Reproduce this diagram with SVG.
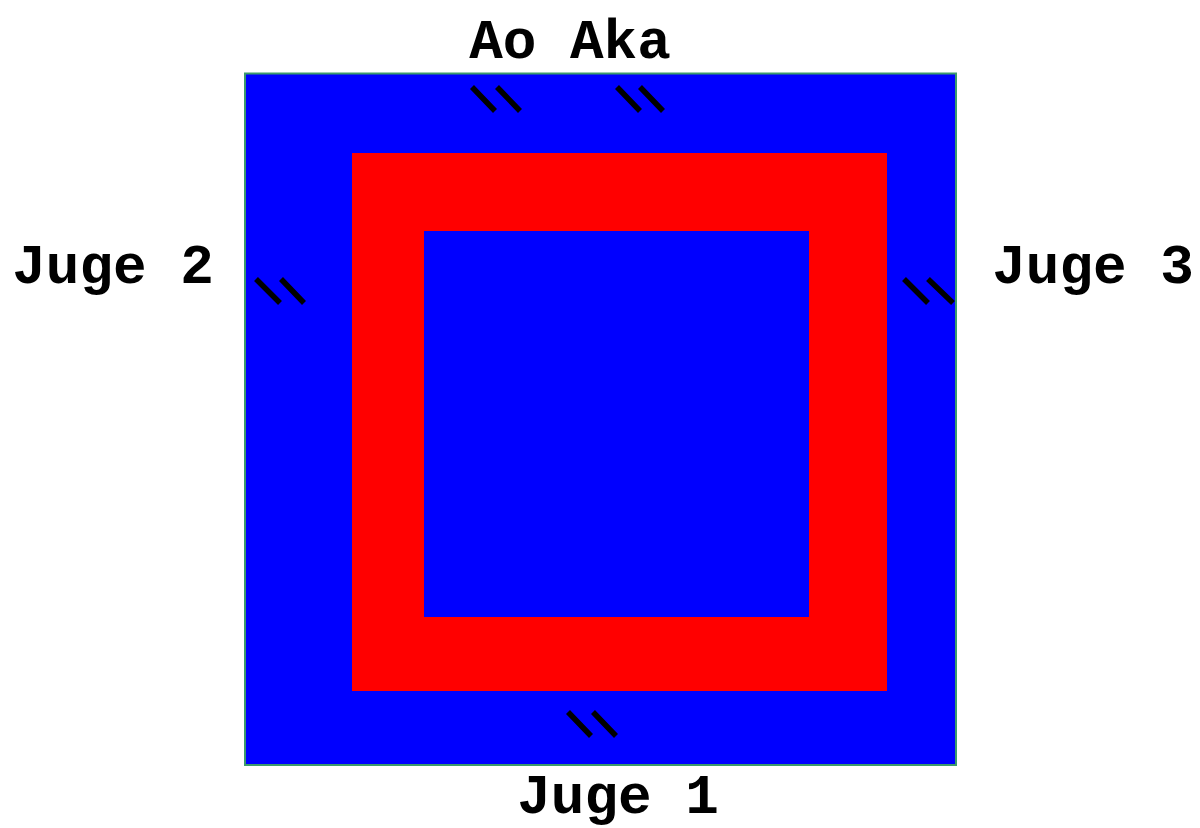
<svg xmlns="http://www.w3.org/2000/svg" width="1200" height="828" viewBox="0 0 1200 828">
<style>
.lbl{font-family:"Liberation Mono","Courier New",monospace;font-weight:bold;font-size:56px;fill:#000;text-anchor:middle}
.tk{stroke:#000;stroke-width:5.5;fill:none}
</style>
<rect width="1200" height="828" fill="#fff"/>
<g id="mat">
<rect x="245" y="73.5" width="711" height="691.5" fill="#0000ff" stroke="#3c9a6c" stroke-width="2"/>
<rect x="352" y="153" width="535" height="538" fill="#ff0000"/>
<rect x="424" y="231" width="385" height="386" fill="#0000ff"/>
</g>
<g id="ticks">
<path class="tk" d="M472,87 L495,111 M497,87 L520,111"/>
<path class="tk" d="M617,87 L640,111 M640,87 L663,111"/>
<path class="tk" d="M256,279 L280,303 M281,279 L304,303"/>
<path class="tk" d="M904,279 L928,303 M928,279 L953,303"/>
<path class="tk" d="M568,712 L591,736 M593,712 L616,736"/>
</g>
<g id="labels">
<text class="lbl" x="570" y="58">Ao Aka</text>
<text class="lbl" x="113" y="283">Juge 2</text>
<text class="lbl" x="1093" y="283">Juge 3</text>
<text class="lbl" x="618" y="813">Juge 1</text>
</g>
</svg>
